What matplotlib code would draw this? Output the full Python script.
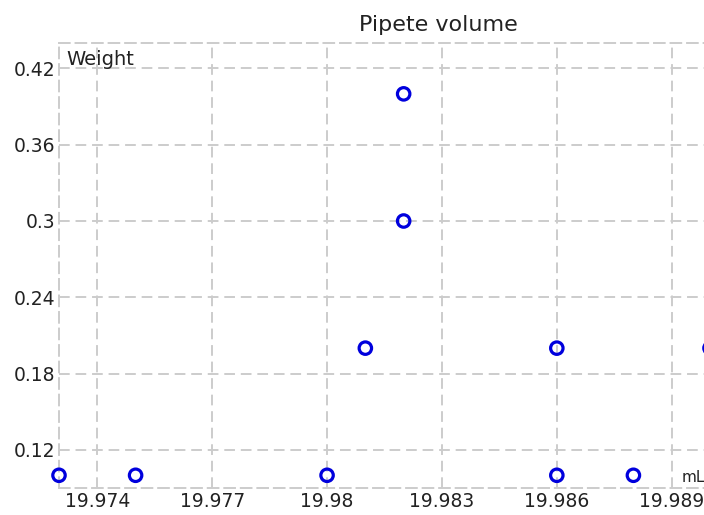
import matplotlib
matplotlib.use("Agg")
import matplotlib.pyplot as plt

# data
volume_ml = [19.973, 19.975, 19.980, 19.981, 19.982, 19.982, 19.986, 19.986, 19.988, 19.990]
weight = [0.10, 0.10, 0.10, 0.20, 0.40, 0.30, 0.20, 0.10, 0.10, 0.20]
x_ticks = [19.974, 19.977, 19.980, 19.983, 19.986, 19.989]
x_tick_labels = ["19.974", "19.977", "19.98", "19.983", "19.986", "19.989"]
y_ticks = [0.12, 0.18, 0.24, 0.30, 0.36, 0.42]
y_tick_labels = ["0.12", "0.18", "0.24", "0.3", "0.36", "0.42"]

W, H = 704, 515
fig = plt.figure(figsize=(W / 100, H / 100), dpi=100)
left, right, bottom, top = 59, 710, 488, 43
ax = fig.add_axes([left / W, (H - bottom) / H, (right - left) / W, (bottom - top) / H])

grid_col = "#cccccc"
ax.scatter(volume_ml, weight, s=80, facecolors="none", edgecolors="#0000dd",
           linewidths=2.3, zorder=3, clip_on=False)

ax.set_xlim(19.973, 19.990)
ax.set_ylim(0.09, 0.44)
ax.set_xticks(x_ticks)
ax.set_xticklabels(x_tick_labels)
ax.set_yticks(y_ticks)
ax.set_yticklabels(y_tick_labels)
ax.tick_params(length=0, labelsize=13.5, colors="#222222")
ax.tick_params(axis="x", pad=3)
ax.tick_params(axis="y", pad=2.5)
ax.grid(True, color=grid_col, linestyle=(0, (5.5, 3)), linewidth=1.4)
for sp in ax.spines.values():
    sp.set_color(grid_col)
    sp.set_linestyle((0, (5.5, 3)))
    sp.set_linewidth(1.4)

ax.text(0.012, 0.985, "Weight", transform=ax.transAxes, ha="left", va="top",
        fontsize=14, color="#222222")
fig.text(682 / W, (H - 478) / H, "mL", ha="left", va="center", fontsize=11, color="#222222")
fig.text(438 / W, (H - 25) / H, "Pipete volume", ha="center", va="center",
         fontsize=16, color="#222222")

fig.savefig("out.png", dpi=100)
